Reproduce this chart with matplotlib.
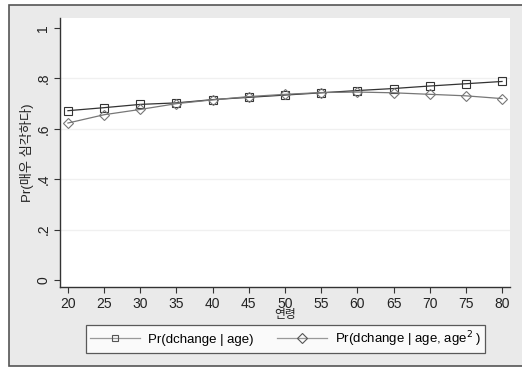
import numpy as np
import matplotlib
matplotlib.use("Agg")
import matplotlib.pyplot as plt
import matplotlib.patches as mpatches

plt.rcParams["font.family"] = ["Liberation Sans", "Noto Sans CJK KR", "DejaVu Sans"]

ages = [20, 25, 30, 35, 40, 45, 50, 55, 60, 65, 70, 75, 80]
pr_linear = [0.672, 0.684, 0.697, 0.703, 0.716, 0.725, 0.734, 0.743, 0.752, 0.760, 0.770, 0.779, 0.788]
pr_quad = [0.623, 0.656, 0.677, 0.700, 0.715, 0.728, 0.737, 0.744, 0.746, 0.743, 0.737, 0.731, 0.720]

y_ticks = [0, 0.2, 0.4, 0.6, 0.8, 1.0]
y_ticklabels = ["0", ".2", ".4", ".6", ".8", "1"]
x_ticks = ages

W, H = 522, 367
fig = plt.figure(figsize=(W / 100, H / 100), dpi=100, facecolor="white")

# grey outer panel with dark frame (cropped at right)
panel = mpatches.Rectangle((9 / W, 1 - 366 / H), 1.0, 361 / H,
                           transform=fig.transFigure, facecolor="#eaeaea",
                           edgecolor="#555555", linewidth=1.2, zorder=-10)
fig.patches.append(panel)

ax = fig.add_axes([60 / W, 1 - 287 / H, 450 / W, 269 / H], facecolor="white")
ax.set_zorder(1)
ax.set_xlim(18.9, 81.1)
ax.set_ylim(-0.028, 1.04)

for y in [0.2, 0.4, 0.6, 0.8]:
    ax.axhline(y, color="#f0f0f0", linewidth=1.0, zorder=1)

l1, = ax.plot(ages, pr_linear, color="#333333", linewidth=0.9, marker="s",
              markersize=6, markerfacecolor="none", markeredgecolor="#333333",
              markeredgewidth=0.8, zorder=3)
l2, = ax.plot(ages, pr_quad, color="#777777", linewidth=0.9, marker="D",
              markersize=5, markerfacecolor="none", markeredgecolor="#777777",
              markeredgewidth=0.8, zorder=3)

for side in ["top", "right"]:
    ax.spines[side].set_visible(False)
for side in ["left", "bottom"]:
    ax.spines[side].set_color("#333333")
    ax.spines[side].set_linewidth(1.0)

ax.set_xticks(x_ticks)
ax.set_xticklabels([str(a) for a in ages], fontsize=10)
ax.set_yticks(y_ticks)
ax.set_yticklabels(y_ticklabels, fontsize=10, rotation=90, va="center")
ax.tick_params(direction="out", length=4, width=0.8, color="#333333",
               labelcolor="#222222", pad=3)

ax.set_xlabel("연령", fontsize=8.5, color="#222222", labelpad=-1)
ax.set_ylabel("Pr(매우 심각하다)", fontsize=9.5, color="#222222", labelpad=2)

leg = fig.legend([l1, l2], ["Pr(dchange | age)", "Pr(dchange | age, age$^2$ )"],
                 loc="center", bbox_to_anchor=(285.5 / W, 1 - 339 / H),
                 ncol=2, fontsize=9.5, frameon=True, fancybox=False,
                 edgecolor="#333333", facecolor="white", handlelength=3.8,
                 columnspacing=1.8, borderpad=0.3, handletextpad=0.6)
leg.get_frame().set_linewidth(0.9)
for h in leg.legend_handles:
    h.set_color("#999999")
    h.set_markeredgecolor("#555555")
    h.set_markersize(5)

fig.savefig("out.png", dpi=100, facecolor=fig.get_facecolor())
plt.close(fig)
